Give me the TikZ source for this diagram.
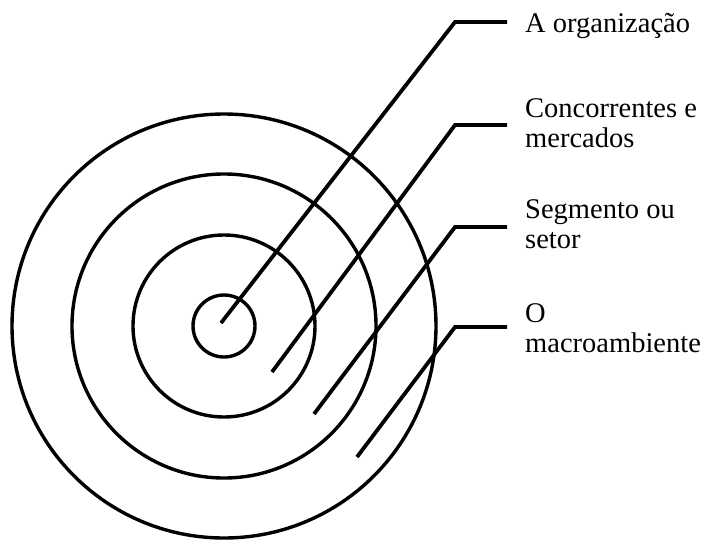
\documentclass[tikz,border=0pt]{standalone}
\usepackage{fontspec}
\setmainfont{Liberation Serif}
\begin{document}
\begin{tikzpicture}[x=1pt,y=-1pt,
  ring/.style={circle,draw=black,line width=3.4pt,inner sep=0pt},
  leader/.style={draw=black,line width=3.8pt,line join=miter},
  lbl/.style={anchor=base west,inner sep=0pt,align=left,
    font=\fontsize{28.5}{30}\selectfont}]
\useasboundingbox (0,0) rectangle (714,541);
\node[ring,minimum size=62pt] (c1) at (224,326) {};
\node[ring,minimum size=182pt] (c2) at (224,326) {};
\node[ring,minimum size=304pt] (c3) at (224,326) {};
\node[ring,minimum size=424pt] (c4) at (224,326) {};
\coordinate (s1) at (221,323);
\coordinate (s2) at (272,372);
\coordinate (s3) at (314,414);
\coordinate (s4) at (357,457);
\coordinate (k1) at (455,22);
\coordinate (k2) at (455,125);
\coordinate (k3) at (455,227);
\coordinate (k4) at (455,327);
\coordinate (e1) at (507,22);
\coordinate (e2) at (507,125);
\coordinate (e3) at (507,227);
\coordinate (e4) at (507,327);
\draw[leader] (s1) -- (k1) -- (e1);
\draw[leader] (s2) -- (k2) -- (e2);
\draw[leader] (s3) -- (k3) -- (e3);
\draw[leader] (s4) -- (k4) -- (e4);
\node[lbl] (t1) at (525,32) {A organização};
\node[lbl] (t2) at (525,147) {Concorrentes e\\mercados};
\node[lbl] (t3) at (525,248) {Segmento ou\\setor};
\node[lbl] (t4) at (525,352) {O\\macroambiente};
\end{tikzpicture}
\end{document}
